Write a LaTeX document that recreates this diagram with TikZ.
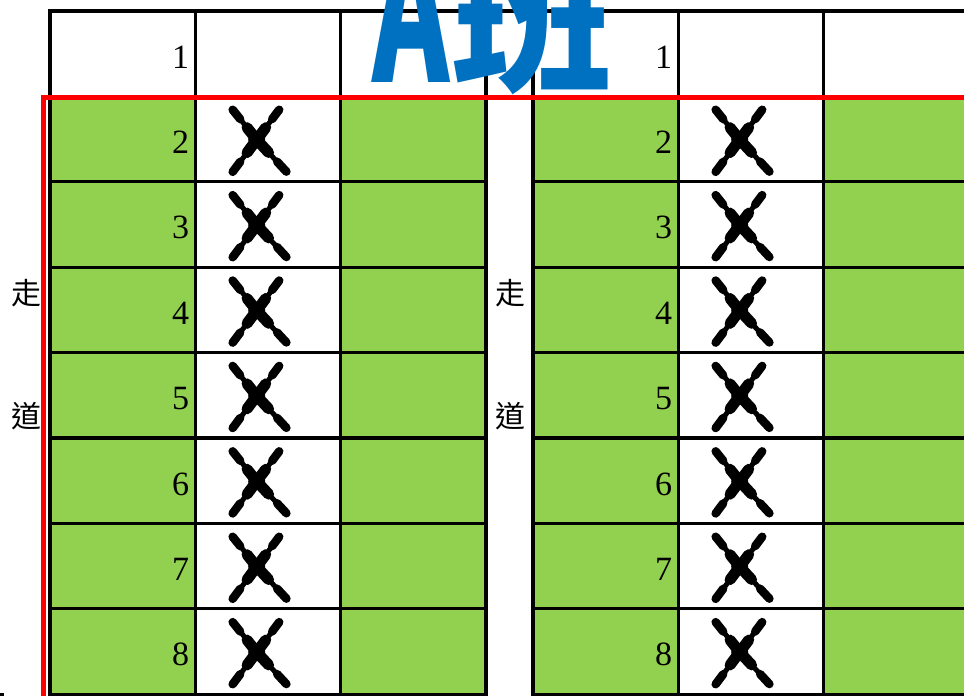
\documentclass[tikz,border=0pt]{standalone}
\usepackage{fontspec}
\setmainfont{Liberation Serif}
\newfontfamily\cjk{Noto Sans CJK TC}
\definecolor{seatgreen}{HTML}{92D050}
\definecolor{titleblue}{HTML}{0070C0}
\definecolor{aislered}{HTML}{FF0000}
\tikzset{
  gridline/.style={line width=3.3pt, black, line cap=rect},
  redline/.style={line width=5.6pt, aislered, line join=miter},
  digit/.style={inner sep=0pt, anchor=base east, font=\fontsize{34}{40}\selectfont},
  aisletext/.style={inner sep=0pt, font=\cjk\fontsize{30}{34}\selectfont},
  xmark/.pic={
    \foreach \dx/\dy in {-26.7/-33.3, 25/-33.3, -26.7/35.7, 33/35.5} {
      \draw[line width=11pt, line cap=round] (0,0) -- (0.36*\dx,0.36*\dy);
      \draw[line width=5pt] (0.3*\dx,0.3*\dy) -- (0.66*\dx,0.66*\dy);
      \draw[line width=8.5pt, line cap=round] (0.62*\dx,0.62*\dy) -- (0.9*\dx,0.9*\dy);
    }
    \fill (0,0) circle (8.5);
  }
}
\begin{document}
\begin{tikzpicture}[x=1pt,y=-1pt]
\useasboundingbox (0,0) rectangle (964,696);
\clip (0,0) rectangle (964,696);
% green seat cells
\foreach \bx in {50,533} {
  \foreach \r in {2,...,8} {
    \pgfmathsetmacro\yt{11+85.4*(\r-1)}
    \fill[seatgreen] (\bx,\yt) rectangle ++(145.3,85.4);
    \fill[seatgreen] (\bx+290.6,\yt) rectangle ++(145.3,85.4);
  }
}
% horizontal grid lines
\draw[gridline] (50,11) -- (964,11);
\draw[gridline] (50,96.4) -- (964,96.4);
\foreach \r in {2,...,8} {
  \pgfmathsetmacro\yb{11+85.4*\r}
  \draw[gridline] (50,\yb) -- (485.9,\yb);
  \draw[gridline] (533,\yb) -- (964,\yb);
}
% vertical grid lines
\foreach \vx in {50,195.3,340.6,485.9,533,678.3,823.6} {
  \draw[gridline] (\vx,11) -- (\vx,694.2);
}
% digits
\foreach \r in {1,...,8} {
  \pgfmathsetmacro\yd{11+85.4*\r-28.4}
  \node[digit] (dL\r) at (189.3,\yd) {\r};
  \node[digit] (dR\r) at (672.3,\yd) {\r};
}
% cross marks
\foreach \r in {2,...,8} {
  \pgfmathsetmacro\yx{11+85.4*(\r-1)+43.3}
  \pic at (256.7,\yx) {xmark};
  \pic at (739.7,\yx) {xmark};
}
% aisle text
\node[aisletext] (walkL1) at (26,293) {走};
\node[aisletext] (walkL2) at (26,416) {道};
\node[aisletext] (walkR1) at (510,293) {走};
\node[aisletext] (walkR2) at (510,416) {道};
% red boundary
\draw[redline] (43.5,696) -- (43.5,97.5) -- (964,97.5);
% title
\node[inner sep=0pt, anchor=base west, text=titleblue, xscale=0.6,
      font=\cjk\bfseries\fontsize{195}{200}\selectfont] (titleA) at (372,82) {A};
\node[inner sep=0pt, anchor=base west, text=titleblue,
      font=\cjk\bfseries\fontsize{160}{170}\selectfont] (titleB) at (452,79) {班};
% tiny mark bottom left
\fill[black] (0,693) rectangle (4,696);
\end{tikzpicture}
\end{document}
